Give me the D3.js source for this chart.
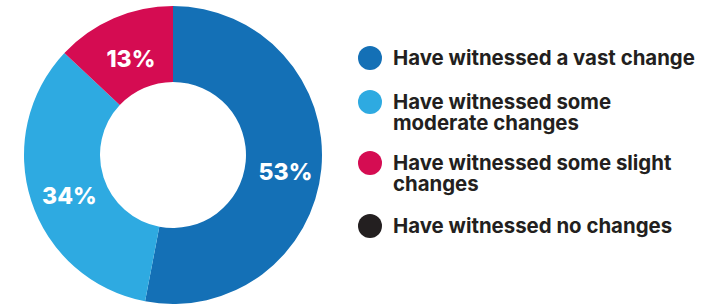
<!DOCTYPE html>
<html>
<head>
<meta charset="utf-8">
<script src="https://cdn.jsdelivr.net/npm/d3@7"></script>
<style>
  html, body { margin: 0; padding: 0; background: #fff; }
  svg { display: block; font-family: Inter, "Noto Sans", sans-serif; }
</style>
</head>
<body>
<svg id="chart" width="702" height="307"></svg>
<script>
const categories = [
    'Have witnessed a vast change',
    'Have witnessed some moderate changes',
    'Have witnessed some slight changes',
    'Have witnessed no changes'
];
const values = [53, 34, 13, 0];
const colors = ['#1470b6', '#2eaae1', '#d50c52', '#231f20'];
// legend text broken over lines as in the original
const legendLines = [
    ['Have witnessed a vast change'],
    ['Have witnessed some', 'moderate changes'],
    ['Have witnessed some slight', 'changes'],
    ['Have witnessed no changes']
];

const svg = d3.select('#chart');
const cx = 173, cy = 155, outerR = 149, innerR = 73;

const data = categories.map((c, i) => ({ category: c, value: values[i], color: colors[i] }));

const pie = d3.pie()
    .value(d => d.value)
    .sort(null);

const arc = d3.arc()
    .innerRadius(innerR)
    .outerRadius(outerR);

const donut = svg.append('g').attr('transform', `translate(${cx},${cy})`);

const arcs = pie(data).filter(d => d.data.value > 0);

donut.selectAll('path.slice')
    .data(arcs)
    .enter()
    .append('path')
    .classed('slice', true)
    .attr('d', arc)
    .attr('fill', d => d.data.color);

// percentage labels sit a little below the ring centroid
donut.selectAll('text.pct')
    .data(arcs)
    .enter()
    .append('text')
    .classed('pct', true)
    .attr('transform', d => {
        const [x, y] = arc.centroid(d);
        return `translate(${x + 2},${y + 6})`;
    })
    .attr('text-anchor', 'middle')
    .attr('dy', '0.36em')
    .style('fill', '#fff')
    .style('font-weight', 800)
    .style('font-size', '23px')
    .text(d => d.data.value + '%');

// legend
const legendY = [58, 102, 163, 226];
const legend = svg.append('g');

const items = legend.selectAll('g.item')
    .data(data)
    .enter()
    .append('g')
    .classed('item', true)
    .attr('transform', (d, i) => `translate(0,${legendY[i]})`);

items.append('circle')
    .attr('cx', 370)
    .attr('cy', 0)
    .attr('r', 12)
    .attr('fill', d => d.color);

items.each(function(d, i) {
    const t = d3.select(this).append('text')
        .attr('x', 393)
        .attr('y', 6.5)
        .style('fill', '#231f20')
        .style('font-weight', 700)
        .style('font-size', '20.4px');
    legendLines[i].forEach((line, j) => {
        t.append('tspan')
            .attr('x', 393)
            .attr('dy', j === 0 ? 0 : 21)
            .text(line);
    });
});
</script>
</body>
</html>
